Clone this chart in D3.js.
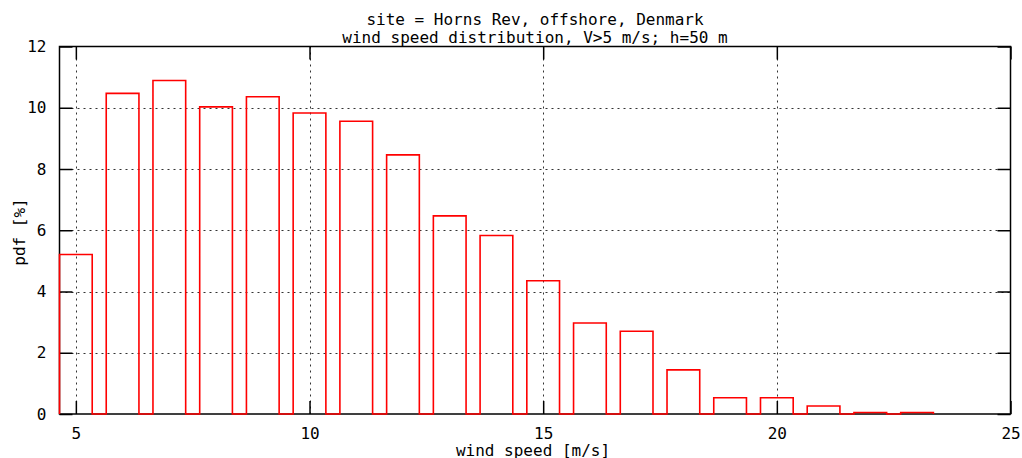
<!DOCTYPE html>
<html>
<head>
<meta charset="utf-8">
<script src="https://cdn.jsdelivr.net/npm/d3@7/dist/d3.min.js"></script>
<style>
  html, body { margin: 0; padding: 0; background: #fff; }
  svg { display: block; }
  text { font-family: "DejaVu Sans Mono", "Liberation Mono", monospace; font-size: 16px; fill: #000; }
</style>
</head>
<body>
<svg id="chart" width="1022" height="458"></svg>
<script>
// Data
const windSpeeds = [5, 6, 7, 8, 9, 10, 11, 12, 13, 14, 15, 16, 17, 18, 19, 20, 21, 22, 23];
const pdfValues  = [5.21, 10.47, 10.89, 10.03, 10.36, 9.83, 9.56, 8.46, 6.47, 5.83, 4.35, 2.97, 2.70, 1.44, 0.53, 0.53, 0.26, 0.05, 0.05];
const xTicks = [5, 10, 15, 20, 25];
const yTicks = [0, 2, 4, 6, 8, 10, 12];
const titleLines = ["site = Horns Rev, offshore, Denmark", "wind speed distribution, V>5 m/s; h=50 m"];
const xLabel = "wind speed [m/s]";
const yLabel = "pdf [%]";
const barWidth = 0.7;

const svg = d3.select("#chart");
const pLeft = 59.5, pRight = 1010.5, pTop = 46.5, pBottom = 414;

const x = d3.scaleLinear().domain([4.65, 25]).range([pLeft, pRight]);
const y = d3.scaleLinear().domain([0, 12]).range([pBottom, pTop]);

// Grid
const grid = svg.append("g").attr("stroke", "#333").attr("stroke-width", 1).attr("stroke-dasharray", "2,4");
xTicks.filter(t => t < 25).forEach(t => {
  grid.append("line").attr("x1", Math.round(x(t)) + 0.5).attr("x2", Math.round(x(t)) + 0.5)
    .attr("y1", pTop).attr("y2", pBottom);
});
yTicks.filter(t => t > 0 && t < 12).forEach(t => {
  grid.append("line").attr("x1", pLeft).attr("x2", pRight)
    .attr("y1", Math.round(y(t)) + 0.5).attr("y2", Math.round(y(t)) + 0.5);
});

// Axes (border + inward ticks) via d3 axes
const tickLen = 13;
const xAxisBottom = d3.axisBottom(x).tickValues(xTicks).tickSizeInner(-tickLen).tickSizeOuter(0).tickPadding(14);
const xAxisTop = d3.axisTop(x).tickValues(xTicks).tickSizeInner(-tickLen).tickSizeOuter(0).tickFormat("");
const yAxisLeft = d3.axisLeft(y).tickValues(yTicks).tickSizeInner(-tickLen).tickSizeOuter(0).tickPadding(13);
const yAxisRight = d3.axisRight(y).tickValues(yTicks).tickSizeInner(-tickLen).tickSizeOuter(0).tickFormat("");

function styleAxis(g) {
  g.select(".domain").remove();
  g.selectAll(".tick line").attr("stroke", "#000").attr("stroke-width", 1.5);
  g.selectAll(".tick text").attr("font-family", "DejaVu Sans Mono, monospace").attr("font-size", 16).attr("fill", "#000");
}
svg.append("g").attr("transform", `translate(0,${pBottom})`).call(xAxisBottom).call(styleAxis);
svg.append("g").attr("transform", `translate(0,${pTop})`).call(xAxisTop).call(styleAxis);
svg.append("g").attr("transform", `translate(${pLeft},0)`).call(yAxisLeft).call(styleAxis);
svg.append("g").attr("transform", `translate(${pRight},0)`).call(yAxisRight).call(styleAxis);

// Border
svg.append("rect").attr("x", pLeft).attr("y", pTop).attr("width", pRight - pLeft).attr("height", pBottom - pTop)
  .attr("fill", "none").attr("stroke", "#000").attr("stroke-width", 1.5);

// Bars as one continuous outline path
const pts = [];
windSpeeds.forEach((c, i) => {
  const v = pdfValues[i];
  pts.push([c - barWidth / 2, 0], [c - barWidth / 2, v], [c + barWidth / 2, v], [c + barWidth / 2, 0]);
});
const line = d3.line().x(d => x(d[0])).y(d => y(d[1]));
svg.append("path").attr("d", line(pts)).attr("fill", "none").attr("stroke", "#ff0000").attr("stroke-width", 1.6);

// Titles
svg.append("text").attr("x", 535).attr("y", 25).attr("text-anchor", "middle").text(titleLines[0]);
svg.append("text").attr("x", 535).attr("y", 43).attr("text-anchor", "middle").text(titleLines[1]);

// Axis labels
svg.append("text").attr("x", 533).attr("y", 456).attr("text-anchor", "middle").text(xLabel);
svg.append("text").attr("transform", `translate(25,232) rotate(-90)`).attr("text-anchor", "middle").text(yLabel);
</script>
</body>
</html>
